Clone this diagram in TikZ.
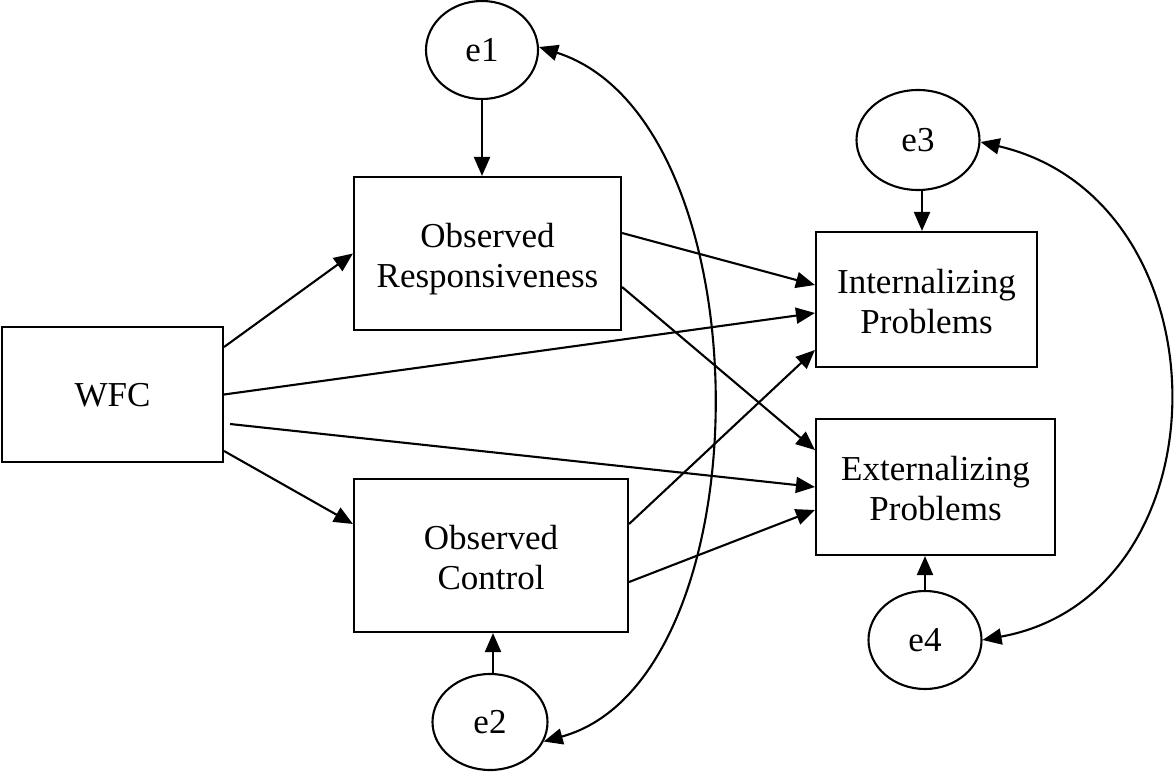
\documentclass[tikz,border=0pt]{standalone}
\usepackage{fontspec}
\setmainfont{Liberation Serif}
\usetikzlibrary{arrows.meta,calc,shapes.geometric}
% two-line box label, set as a centred column and nudged down a little
\newcommand{\twolines}[2]{\raisebox{-5.5pt}[\height][\depth]{\begin{tabular}{@{}c@{}}#1\\#2\end{tabular}}}
\begin{document}
\begin{tikzpicture}[x=1pt,y=-1pt,
  line width=2.1pt,
  every node/.style={font=\fontsize{35}{40}\selectfont, align=center, inner sep=0pt},
  var/.style={draw, rectangle},
  err/.style={draw, ellipse},
  regpath/.style={-{Triangle[length=19pt,width=16pt]}},
  cov/.style={{Triangle[length=19pt,width=16pt]}-{Triangle[length=19pt,width=16pt]}}]
\useasboundingbox (0,0) rectangle (1176,776);

% observed variables
\node[var, minimum width=221pt, minimum height=135pt] (wfc)  at (112.5,394.5) {\raisebox{-1pt}[\height][\depth]{WFC}};
\node[var, minimum width=267pt, minimum height=153pt] (resp) at (487.5,253.5) {\twolines{Observed}{Responsiveness}};
\node[var, minimum width=274pt, minimum height=153pt] (ctrl) at (491,555.5) {\twolines{Observed}{Control}};
\node[var, minimum width=221pt, minimum height=135pt] (int)  at (926.5,299.5) {\twolines{Internalizing}{Problems}};
\node[var, minimum width=239pt, minimum height=136pt] (ext)  at (935.5,487) {\twolines{Externalizing}{Problems}};

% residuals
\node[err, minimum width=112pt, minimum height=98pt] (e1) at (482,50) {e1};
\node[err, minimum width=115pt, minimum height=96pt] (e2) at (490,722) {e2};
\node[err, minimum width=123pt, minimum height=100pt] (e3) at (918,140) {e3};
\node[err, minimum width=113pt, minimum height=98pt] (e4) at (925,640) {e4};

% residual paths
\draw[regpath] (e1.south) -- (e1.south |- resp.north);
\draw[regpath] ([xshift=3pt]e2.north) -- ([xshift=3pt]e2.north |- ctrl.south);
\draw[regpath] ([xshift=4pt]e3.south) -- ([xshift=4pt]e3.south |- int.north);
\draw[regpath] (e4.north) -- (e4.north |- ext.south);

% structural paths
\draw[regpath] ([yshift=47.5pt]wfc.east) -- (resp.west);
\draw[regpath] (wfc.east) -- ([yshift=-13.5pt]int.west);
\draw[regpath] ([xshift=6pt,yshift=-29.5pt]wfc.east) -- (ext.west);
\draw[regpath] ([yshift=-56.5pt]wfc.east) -- ([yshift=31.5pt]ctrl.west);
\draw[regpath] ([yshift=20.5pt]resp.east) -- ([yshift=14.5pt]int.west);
\draw[regpath] ([yshift=-33.5pt]resp.east) -- ([yshift=37pt]ext.west);
\draw[regpath] ([yshift=31.5pt]ctrl.east) -- ([yshift=-50.5pt]int.west);
\draw[regpath] ([yshift=-26.5pt]ctrl.east) -- ([yshift=-23pt]ext.west);

% residual covariances
\draw[cov] ([yshift=3pt]e1.east) .. controls (768,120) and (768,680) .. (e2.-20);
\draw[cov] ([yshift=-2pt]e3.east) .. controls (1230,200) and (1230,595) .. (e4.east);
\end{tikzpicture}
\end{document}
